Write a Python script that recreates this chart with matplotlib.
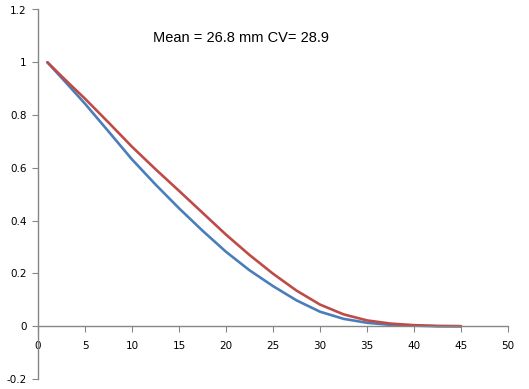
import matplotlib
matplotlib.use('Agg')
import matplotlib.pyplot as plt

# distance (mm) and the two curves
x_vals = [1, 3, 5, 7.5, 10, 12.5, 15, 17.5, 20, 22.5, 25, 27.5, 30,
          32.5, 35, 37.5, 40, 42.5, 45]
blue_vals = [1.0, 0.922, 0.843, 0.738, 0.632, 0.537, 0.447, 0.362, 0.282, 0.212,
             0.152, 0.098, 0.055, 0.028, 0.013, 0.005, 0.002, 0.0, 0.0]
red_vals = [1.0, 0.93, 0.862, 0.772, 0.68, 0.595, 0.513, 0.43, 0.347, 0.27,
            0.199, 0.135, 0.082, 0.045, 0.022, 0.01, 0.004, 0.001, 0.0]

x_ticks = [0, 5, 10, 15, 20, 25, 30, 35, 40, 45, 50]
y_ticks = [-0.2, 0, 0.2, 0.4, 0.6, 0.8, 1, 1.2]
y_labels = ['-0.2', '0', '0.2', '0.4', '0.6', '0.8', '1', '1.2']
note = 'Mean = 26.8 mm CV= 28.9'

axis_grey = '#868686'

fig = plt.figure(figsize=(5.29, 3.89), dpi=100)
ax = fig.add_axes([38 / 529, 1 - 379 / 389, 470 / 529, (379 - 9.5) / 389])

ax.plot(x_vals, blue_vals, color='#4A7EBB', linewidth=1.9, solid_capstyle='round')
ax.plot(x_vals, red_vals, color='#BE4B48', linewidth=1.9, solid_capstyle='round')

ax.set_xlim(0, 50)
ax.set_ylim(-0.2, 1.2)

ax.spines['right'].set_visible(False)
ax.spines['top'].set_visible(False)
ax.spines['bottom'].set_position(('data', 0))
for s in ('left', 'bottom'):
    ax.spines[s].set_color(axis_grey)
    ax.spines[s].set_linewidth(1.0)

ax.set_xticks(x_ticks)
ax.set_xticklabels([str(t) for t in x_ticks])
ax.set_yticks(y_ticks)
ax.set_yticklabels(y_labels)
ax.tick_params(axis='x', direction='out', length=4, color=axis_grey,
               labelsize=7.5, pad=6.5)
ax.tick_params(axis='y', direction='out', length=4, color=axis_grey,
               labelsize=7.5, pad=4)

ax.text(12.2, 1.092, note, fontsize=10.5, family='Liberation Sans',
        va='center', ha='left')

fig.savefig('out.png', dpi=100)
